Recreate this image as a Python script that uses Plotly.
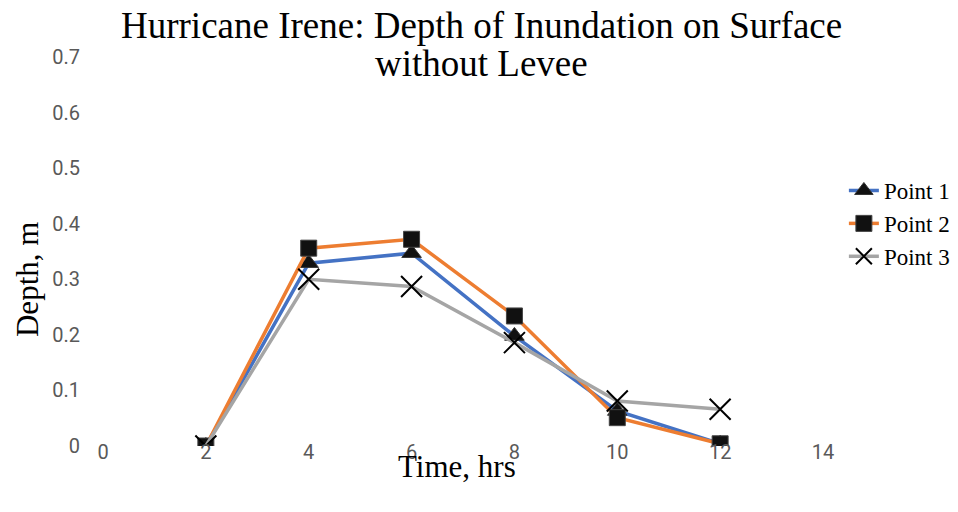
import plotly.graph_objects as go

# Inundation depth (m) at three observation points over time (hrs)
time_hrs = [2, 4, 6, 8, 10, 12]
point1 = [0.0, 0.329, 0.347, 0.198, 0.063, 0.004]
point2 = [0.0, 0.356, 0.372, 0.234, 0.051, 0.004]
point3 = [0.0, 0.300, 0.287, 0.186, 0.081, 0.066]

x_ticks = [0, 2, 4, 6, 8, 10, 12, 14]
y_ticks = [0, 0.1, 0.2, 0.3, 0.4, 0.5, 0.6, 0.7]

title_lines = ["Hurricane Irene: Depth of Inundation on Surface", "without Levee"]

series = [
    ("Point 1", point1, "#4472C4", dict(symbol="triangle-up", size=17, color="#111111",
                                        line=dict(color="#333333", width=1))),
    ("Point 2", point2, "#ED7D31", dict(symbol="square", size=16, color="#111111",
                                        line=dict(color="#444444", width=1))),
    ("Point 3", point3, "#A5A5A5", dict(symbol="x-thin-open", size=21, color="#000000",
                                        line=dict(color="#000000", width=2))),
]

fig = go.Figure()
for name, vals, color, marker in series:
    fig.add_trace(go.Scatter(
        x=time_hrs, y=vals, name=name, mode="lines+markers",
        line=dict(color=color, width=3.5), marker=marker,
    ))

tick_font = dict(family="Liberation Sans Narrow, Roboto, sans-serif", size=20, color="#595959")
serif = "Liberation Serif, Times New Roman, serif"

annotations = [
    dict(text=title_lines[0], xref="paper", yref="paper", x=0.525, y=(446 - 25) / 389,
         xanchor="center", yanchor="middle", showarrow=False,
         font=dict(family=serif, size=37, color="#000000")),
    dict(text=title_lines[1], xref="paper", yref="paper", x=0.525, y=(446 - 64) / 389,
         xanchor="center", yanchor="middle", showarrow=False,
         font=dict(family=serif, size=37, color="#000000")),
    dict(text="Time, hrs", xref="paper", yref="paper", x=0.492, y=-0.052,
         xanchor="center", yanchor="middle", showarrow=False,
         font=dict(family=serif, size=31, color="#000000")),
    dict(text="Depth, m", xref="paper", yref="paper", x=-0.104, y=0.427,
         xanchor="center", yanchor="middle", textangle=-90, showarrow=False,
         font=dict(family=serif, size=31, color="#000000")),
]

fig.update_layout(
    width=958, height=512,
    margin=dict(l=103, r=135, t=57, b=66, autoexpand=False),
    paper_bgcolor="white", plot_bgcolor="white",
    xaxis=dict(range=[0, 14], tickvals=x_ticks, showgrid=False, zeroline=False,
               showline=False, tickfont=tick_font, ticklabelstandoff=-8),
    yaxis=dict(range=[0, 0.7], tickvals=y_ticks, ticktext=[str(v) for v in y_ticks],
               showgrid=False, zeroline=False, showline=False, tickfont=tick_font,
               ticklabelstandoff=22),
    legend=dict(x=1.029, y=0.712, xanchor="left", yanchor="top",
                font=dict(family=serif, size=23, color="#000000"),
                bgcolor="rgba(0,0,0,0)"),
    annotations=annotations,
)

fig.write_html("out.html")
